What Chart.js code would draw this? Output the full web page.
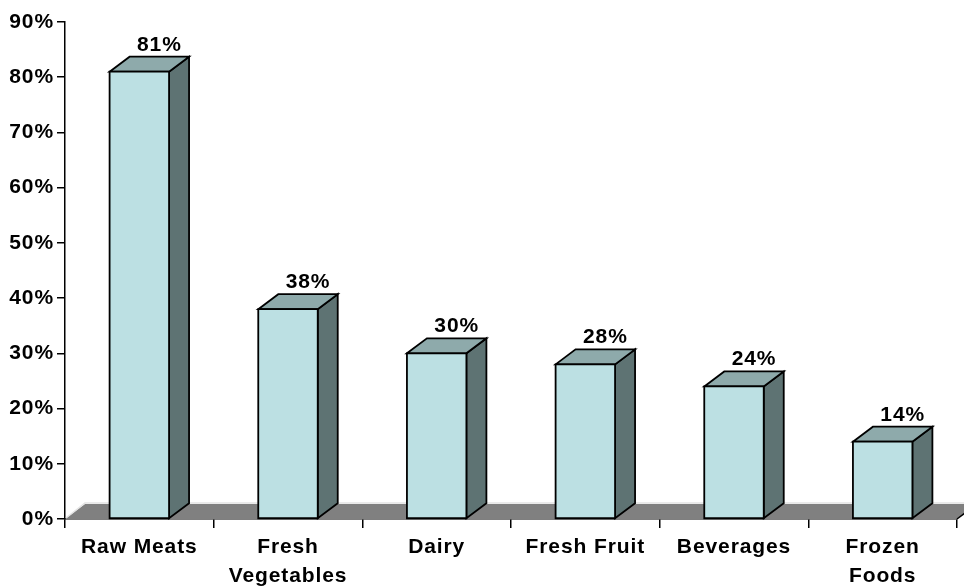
<!DOCTYPE html>
<html>
<head>
<meta charset="utf-8">
<script src="https://cdn.jsdelivr.net/npm/chart.js@4/dist/chart.umd.min.js"></script>
<style>
  html, body { margin: 0; padding: 0; background: #ffffff; }
  #wrap { width: 964px; height: 587px; }
</style>
</head>
<body>
<div id="wrap"><canvas id="c"></canvas></div>
<script>
// Share of respondents by food category
const categories = [['Raw Meats'], ['Fresh', 'Vegetables'], ['Dairy'], ['Fresh Fruit'], ['Beverages'], ['Frozen', 'Foods']];
const shares = [81, 38, 30, 28, 24, 14];
const yMin = 0;
const yMax = 90;
const yStep = 10;

// depth of the pseudo-3D extrusion
const DX = 20;
const DY = -15;

const FRONT = '#bce0e3';
const TOP = '#8eaaab';
const SIDE = '#5e7373';
const FLOOR = '#808080';
const FONT = { family: '"Liberation Sans", Arial, sans-serif', size: 21, weight: 'bold' };

function poly(ctx, pts, fill, stroke, lw) {
  ctx.beginPath();
  ctx.moveTo(pts[0][0], pts[0][1]);
  for (let i = 1; i < pts.length; i++) ctx.lineTo(pts[i][0], pts[i][1]);
  ctx.closePath();
  if (fill) { ctx.fillStyle = fill; ctx.fill(); }
  if (stroke) { ctx.strokeStyle = stroke; ctx.lineWidth = lw; ctx.lineJoin = 'miter'; ctx.stroke(); }
}

const textSpacing = {
  id: 'textSpacing',
  beforeDraw(chart) { chart.ctx.letterSpacing = '0.9px'; }
};

const boxes3d = {
  id: 'boxes3d',
  beforeDatasetsDraw(chart) {
    const { ctx, chartArea, scales } = chart;
    const y0 = scales.y.getPixelForValue(0);
    const l = chartArea.left, r = chartArea.right;
    ctx.save();
    // floor slab
    poly(ctx, [[l, y0], [r, y0], [r + DX, y0 + DY], [l + DX, y0 + DY]], FLOOR, null, 0);
    ctx.beginPath();
    ctx.moveTo(l + 1, y0 - 1);
    ctx.lineTo(l + DX, y0 + DY - 1);
    ctx.lineTo(r + DX, y0 + DY - 1);
    ctx.strokeStyle = '#e4e4e4';
    ctx.lineWidth = 1.5;
    ctx.stroke();
    ctx.beginPath();
    ctx.moveTo(r, y0);
    ctx.lineTo(r + DX, y0 + DY);
    ctx.strokeStyle = '#000';
    ctx.lineWidth = 1.5;
    ctx.stroke();

    // columns
    const meta = chart.getDatasetMeta(0);
    meta.data.forEach((bar) => {
      const { x, y, base, width } = bar.getProps(['x', 'y', 'base', 'width'], true);
      const bl = x - width / 2, br = x + width / 2;
      poly(ctx, [[br, y], [br + DX, y + DY], [br + DX, base + DY], [br, base]], SIDE, '#000', 1.8);
      poly(ctx, [[bl, y], [bl + DX, y + DY], [br + DX, y + DY], [br, y]], TOP, '#000', 1.8);
      poly(ctx, [[bl, y], [br, y], [br, base], [bl, base]], FRONT, '#000', 1.8);
    });
    ctx.restore();
  },
  afterDatasetsDraw(chart) {
    const { ctx } = chart;
    const meta = chart.getDatasetMeta(0);
    ctx.save();
    ctx.font = `${FONT.weight} ${FONT.size}px ${FONT.family}`;
    ctx.fillStyle = '#000';
    ctx.textAlign = 'center';
    ctx.textBaseline = 'alphabetic';
    meta.data.forEach((bar, i) => {
      ctx.fillText(shares[i] + '%', bar.x + DX, bar.y + DY - 6);
    });
    ctx.restore();
  }
};

new Chart(document.getElementById('c'), {
  type: 'bar',
  data: {
    labels: categories,
    datasets: [{
      data: shares,
      backgroundColor: 'rgba(0,0,0,0)',
      borderWidth: 0,
      categoryPercentage: 1,
      barPercentage: 0.4
    }]
  },
  options: {
    responsive: true,
    maintainAspectRatio: false,
    animation: false,
    devicePixelRatio: 1,
    layout: { padding: { top: 22, right: 7, left: 0, bottom: 0 } },
    plugins: { legend: { display: false }, tooltip: { enabled: false } },
    scales: {
      x: {
        grid: { display: true, drawOnChartArea: false, drawTicks: true, tickLength: 9, color: '#000', lineWidth: 1.5, offset: true },
        border: { display: true, color: '#000', width: 1.5 },
        ticks: { font: { ...FONT, lineHeight: 1.38 }, color: '#000', padding: 5, maxRotation: 0, autoSkip: false },
        afterFit(s) { s.height = 68; }
      },
      y: {
        min: yMin,
        max: yMax,
        grid: { display: true, drawOnChartArea: false, drawTicks: true, tickLength: 8, color: '#000', lineWidth: 1.5 },
        border: { display: true, color: '#000', width: 1.5 },
        ticks: { stepSize: yStep, font: FONT, color: '#000', padding: 3, callback: (v) => v + '%' },
        afterFit(s) { s.width = 65; }
      }
    }
  },
  plugins: [textSpacing, boxes3d]
});
</script>
</body>
</html>
